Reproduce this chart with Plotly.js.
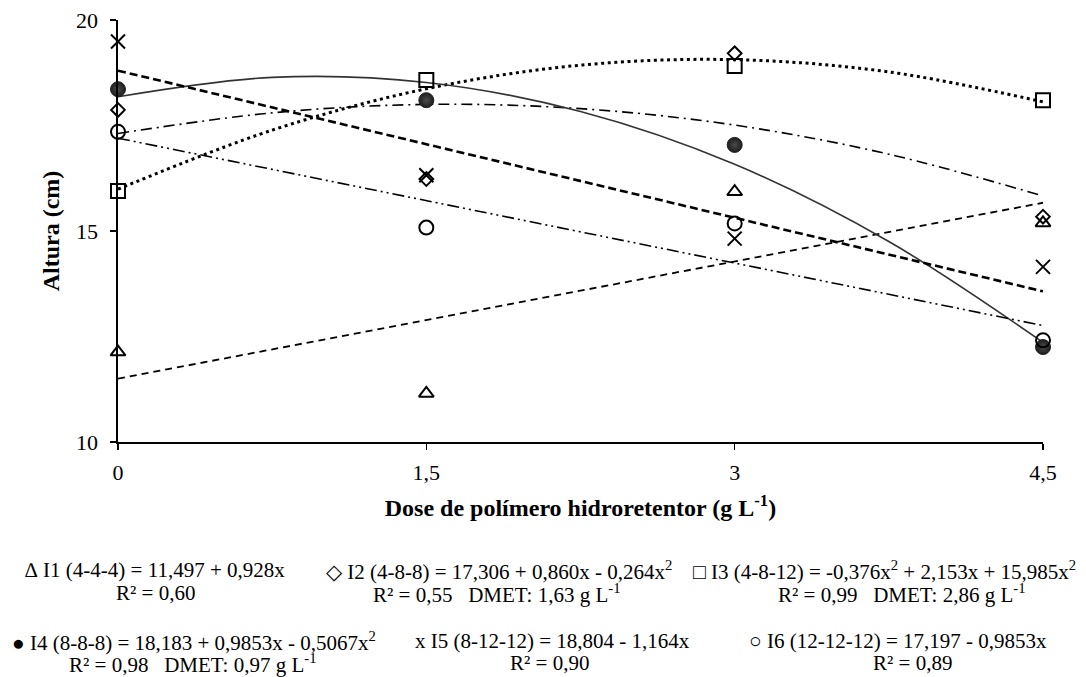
<!DOCTYPE html>
<html>
<head>
<meta charset="utf-8">
<script src="https://cdn.plot.ly/plotly-3.0.1.min.js"></script>
<style>html,body{margin:0;padding:0;background:#fff;}#chart{width:1086px;height:677px;}</style>
</head>
<body>
<div id="chart"></div>
<script>
// Doses (g L-1)
const doses = [0, 1.5, 3, 4.5];
const doseLabels = ['0', '1,5', '3', '4,5'];
const yTicks = [10, 15, 20];

// Observed heights (cm)
const I1 = [12.13, 11.15, 15.93, 15.19];
const I2 = [17.87, 16.23, 19.21, 15.34];
const I3 = [15.95, 18.58, 18.91, 18.10];
const I4 = [18.36, 18.10, 17.04, 12.25];
const I5 = [19.49, 16.32, 14.82, 14.15];
const I6 = [17.35, 15.08, 15.18, 12.41];

// Fitted trend lines
const fitXcurve = [0, 0.75, 1.5, 2.25, 3, 3.75, 4.5];
const fitXline = [0, 4.5];
const I1fit = [11.50, 15.67];
const I2fit = [17.31, 17.80, 18.00, 17.90, 17.51, 16.82, 15.83];
const I3fit = [15.99, 17.39, 18.37, 18.93, 19.06, 18.77, 18.06];
const I4fit = [18.18, 18.64, 18.52, 17.83, 16.58, 14.75, 12.36];
const I5fit = [18.80, 13.57];
const I6fit = [17.20, 12.76];

// Equation labels
const eqLabels = [
  ['\u2206 I1 (4-4-4) = 11,497 + 0,928x', 'R\u00b2 = 0,60'],
  ['\u25c7 I2 (4-8-8) = 17,306 + 0,860x - 0,264x<sup>2</sup>', 'R\u00b2 = 0,55\u00a0\u00a0 DMET: 1,63 g L<sup>-1</sup>'],
  ['\u25a1 I3 (4-8-12) = -0,376x<sup>2</sup> + 2,153x + 15,985x<sup>2</sup>', 'R\u00b2 = 0,99\u00a0\u00a0 DMET: 2,86 g L<sup>-1</sup>'],
  ['\u25cf I4 (8-8-8) = 18,183 + 0,9853x - 0,5067x<sup>2</sup>', 'R\u00b2 = 0,98\u00a0\u00a0 DMET: 0,97 g L<sup>-1</sup>'],
  ['x I5 (8-12-12) = 18,804 - 1,164x', 'R\u00b2 = 0,90'],
  ['\u25cb I6 (12-12-12) = 17,197 - 0,9853x', 'R\u00b2 = 0,89']
];

const FONT = 'Liberation Serif';
const M = {l: 118, r: 43, t: 20, b: 235};
const W = 1086, H = 677;
const pw = W - M.l - M.r, ph = H - M.t - M.b;
const px = v => (v - M.l) / pw;
const py = v => 1 - (v - M.t) / ph;

const traces = [];
function fit(x, y, dash, width, color, smooth) {
  traces.push({x: x, y: y, type: 'scatter', mode: 'lines', showlegend: false, hoverinfo: 'skip',
    line: {color: color, width: width, dash: dash, shape: smooth ? 'spline' : 'linear'}});
}
fit(fitXline, I1fit, '7px,5px', 1.8, '#000', false);
fit(fitXcurve, I2fit, '11px,5px,2px,5px', 1.6, '#000', true);
fit(fitXcurve, I3fit, '3px,3.6px', 3, '#000', true);
fit(fitXcurve, I4fit, 'solid', 1.6, '#333', true);
fit(fitXline, I5fit, '8px,4px', 2.6, '#000', false);
fit(fitXline, I6fit, '12px,4px,2px,4px,2px,4px', 1.6, '#000', false);

function pts(y, symbol, size, name, extra) {
  const m = Object.assign({symbol: symbol, size: size, color: '#000', line: {color: '#000', width: 2}}, extra || {});
  traces.push({x: doses, y: y, type: 'scatter', mode: 'markers', name: name, showlegend: false,
    cliponaxis: false, marker: m});
}
pts(I1, 'triangle-up-open', 13, 'I1');
pts(I2, 'diamond-open', 10.5, 'I2');
pts(I3, 'square-open', 14, 'I3');
pts(I4, 'circle', 15, 'I4', {color: '#1e1e1e', line: {color: '#1e1e1e', width: 1}, gradient: {type: 'radial', color: '#4a4a4a'}});
pts(I5, 'x-thin-open', 14, 'I5');
pts(I6, 'circle-open', 14, 'I6');

const annotations = [];
const centers = [[155, 155], [499, 497], [884, 902], [194, 193], [552, 549], [898, 912]];
const rowsY = [[570, 593], [570, 593], [570, 593], [641, 663], [641, 663], [641, 663]];
eqLabels.forEach((lab, i) => {
  lab.forEach((t, j) => {
    annotations.push({xref: 'paper', yref: 'paper', x: px(centers[i][j]), y: py(rowsY[i][j]),
      xanchor: 'center', yanchor: 'middle', showarrow: false, text: t,
      font: {family: FONT, size: 21, color: '#000'}});
  });
});

const layout = {
  width: W, height: H,
  margin: M,
  paper_bgcolor: '#fff', plot_bgcolor: '#fff',
  showlegend: false,
  font: {family: FONT, size: 22, color: '#000'},
  xaxis: {
    range: [0, 4.5], tickmode: 'array', tickvals: doses, ticktext: doseLabels,
    showline: true, linecolor: '#000', linewidth: 1.6, ticks: 'outside', ticklen: 6, tickwidth: 1.6,
    tickcolor: '#000', showgrid: false, zeroline: false, ticklabelstandoff: 4,
    tickfont: {family: FONT, size: 22, color: '#000'},
    title: {text: '<b>Dose de polímero hidroretentor (g L<sup>-1</sup>)</b>', standoff: 15,
      font: {family: FONT, size: 24, color: '#000'}}
  },
  yaxis: {
    range: [10, 20], tickmode: 'array', tickvals: yTicks, ticktext: yTicks.map(String),
    showline: true, linecolor: '#000', linewidth: 1.6, ticks: 'outside', ticklen: 6, tickwidth: 1.6,
    tickcolor: '#000', showgrid: false, zeroline: false, ticklabelstandoff: 8,
    tickfont: {family: FONT, size: 22, color: '#000'},
    title: {text: '<b>Altura (cm)</b>', standoff: 9,
      font: {family: FONT, size: 24, color: '#000'}}
  },
  annotations: annotations
};

Plotly.newPlot('chart', traces, layout, {displayModeBar: false, staticPlot: true});
</script>
</body>
</html>
